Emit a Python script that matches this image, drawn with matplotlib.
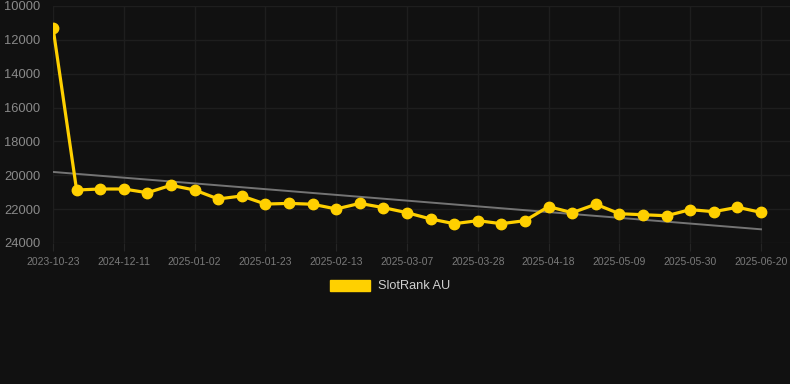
import numpy as np
import matplotlib
matplotlib.use("Agg")
import matplotlib.pyplot as plt
from matplotlib.patches import Patch

dates = [
    "2023-10-23", "2024-11-27", "2024-12-04", "2024-12-11", "2024-12-18",
    "2024-12-25", "2025-01-02", "2025-01-09", "2025-01-16", "2025-01-23",
    "2025-01-30", "2025-02-06", "2025-02-13", "2025-02-20", "2025-02-27",
    "2025-03-07", "2025-03-14", "2025-03-21", "2025-03-28", "2025-04-04",
    "2025-04-11", "2025-04-18", "2025-04-25", "2025-05-02", "2025-05-09",
    "2025-05-16", "2025-05-23", "2025-05-30", "2025-06-06", "2025-06-13",
    "2025-06-20",
]
rank = [
    11280, 20870, 20810, 20810, 21030, 20590, 20870, 21400, 21220, 21700,
    21660, 21710, 21990, 21660, 21910, 22210, 22580, 22860, 22680, 22860,
    22680, 21850, 22210, 21710, 22270, 22330, 22390, 22030, 22150, 21890,
    22190,
]
y_ticks = [10000, 12000, 14000, 16000, 18000, 20000, 22000, 24000]

bg = "#111111"
gold = "#FFD000"
plt.rcParams["font.family"] = ["Liberation Sans", "DejaVu Sans"]

fig = plt.figure(figsize=(7.9, 3.84), dpi=100, facecolor=bg)
ax = fig.add_axes([53 / 790, 1 - 243 / 384, 737 / 790, 237 / 384])
ax.set_facecolor(bg)

x = np.arange(len(dates))
# linear trend over all points
k, b = np.polyfit(x, rank, 1)
ax.plot(x, k * x + b, color="#747474", lw=1.4, zorder=2)
ax.plot(x, rank, color=gold, lw=2.3, marker="o", ms=7.5, zorder=3)

ax.set_ylim(24000, 10000)
ax.set_yticks(y_ticks)
ax.set_yticklabels([str(v) for v in y_ticks])
ax.set_xlim(0, 30 + 29 / 23.6)
ax.set_xticks(x[::3])
ax.set_xticklabels(dates[::3])

ax.grid(True, color="#1e1e1e", lw=1)
ax.set_axisbelow(True)
for s in ax.spines.values():
    s.set_visible(False)
ax.tick_params(axis="y", length=0, pad=9, labelsize=9.3, labelcolor="#8a8a8a")
ax.tick_params(axis="x", length=6, color="#252525", pad=4, labelsize=7.5, labelcolor="#7a7a7a")

handle = Patch(facecolor=gold, edgecolor=gold)
fig.legend([handle], ["SlotRank AU"], loc="center", bbox_to_anchor=(390 / 790, 1 - 286 / 384),
           frameon=False, handlelength=3.2, handleheight=0.95, handletextpad=0.6,
           labelcolor="#d0d0d0", fontsize=9.2)

fig.savefig("out.png", dpi=100, facecolor=bg)
